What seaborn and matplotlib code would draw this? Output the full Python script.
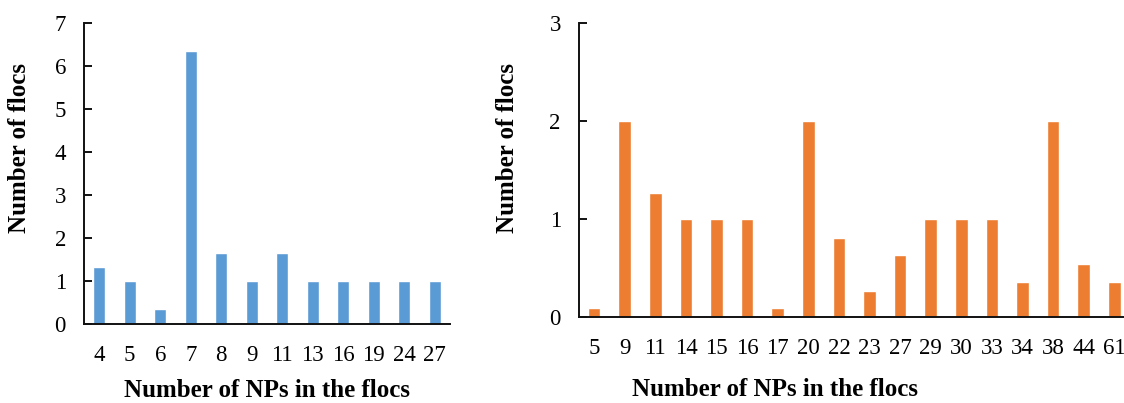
import pandas as pd
import numpy as np
import matplotlib.pyplot as plt
import seaborn as sns

# data --->
left_np = ["4", "5", "6", "7", "8", "9", "11", "13", "16", "19", "24", "27"]
left_flocs = [1.33, 1.0, 0.34, 6.35, 1.65, 1.0, 1.65, 1.0, 1.0, 1.0, 1.0, 1.0]

right_np = ["5", "9", "11", "14", "15", "16", "17", "20", "22", "23",
            "27", "29", "30", "33", "34", "38", "44", "61"]
right_flocs = [0.09, 2.0, 1.27, 1.0, 1.0, 1.0, 0.09, 2.0, 0.81, 0.27,
               0.63, 1.0, 1.0, 1.0, 0.36, 2.0, 0.54, 0.36]

left_df = pd.DataFrame({"np": left_np, "flocs": left_flocs})
right_df = pd.DataFrame({"np": right_np, "flocs": right_flocs})

sns.set_style("white")
plt.rcParams['font.family'] = ['Liberation Serif', 'DejaVu Serif']
plt.rcParams['text.color'] = 'black'
plt.rcParams['axes.labelcolor'] = 'black'
plt.rcParams['xtick.color'] = 'black'
plt.rcParams['ytick.color'] = 'black'

fig = plt.figure(figsize=(11.24, 4.03), dpi=100)
ax1 = fig.add_axes([0.0747, 0.196, 0.3256, 0.747])
ax2 = fig.add_axes([0.515, 0.2134, 0.490, 0.7295])


def style_axis(ax, df, ymax, color, width, xlab_x, xlab_y, ylab_x, ylab_y):
    sns.barplot(data=df, x="np", y="flocs", color=color, width=width,
                saturation=1, ax=ax, errorbar=None)
    n = len(df)
    ax.set_xlim(-0.5, n - 0.5)
    ax.set_ylim(0, ymax)
    ax.set_yticks(range(0, ymax + 1))
    for side in ["top", "right"]:
        ax.spines[side].set_visible(False)
    for side in ["left", "bottom"]:
        ax.spines[side].set_linewidth(1.4)
        ax.spines[side].set_color("#111111")
    # ticks sit between the categories, pointing inwards
    ax.set_xticks(np.arange(n) + 0.5, minor=True)
    ax.tick_params(axis="x", which="major", length=0, pad=15, labelsize=16.5)
    ax.tick_params(axis="x", which="minor", direction="in", length=5,
                   width=1.4, color="#111111")
    ax.tick_params(axis="y", direction="in", length=6, width=1.4,
                   color="#111111", pad=13, labelsize=16.5, left=True)
    ax.set_xlabel("Number of NPs in the flocs", fontsize=18, fontweight="bold")
    ax.set_ylabel("Number of flocs", fontsize=18, fontweight="bold")
    ax.xaxis.set_label_coords(xlab_x, xlab_y)
    ax.xaxis.label.set_va("center")
    ax.yaxis.set_label_coords(ylab_x, ylab_y)
    ax.yaxis.label.set_va("center")


style_axis(ax1, left_df, 7, "#5B9BD5", 0.4, 0.5, -0.22, -0.175, 0.585)
style_axis(ax2, right_df, 3, "#ED7D31", 0.41, 0.356, -0.248, -0.129, 0.575)

plt.savefig("out.png", dpi=100)
